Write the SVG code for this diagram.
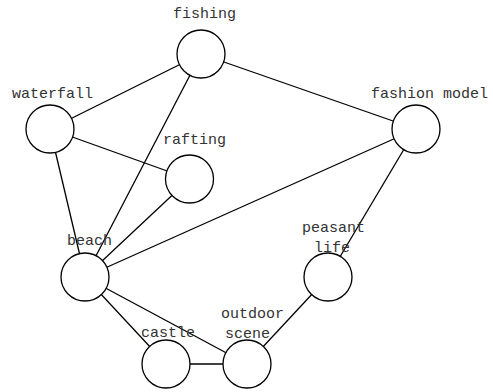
<svg xmlns="http://www.w3.org/2000/svg" width="493" height="392" viewBox="0 0 493 392">
<style>
.e{stroke:#000;stroke-width:1.3;fill:none}
.n circle{fill:#fff;stroke:#000;stroke-width:1.3}
.n text{font-family:"Liberation Mono","DejaVu Sans Mono",monospace;font-size:15px;fill:#333}
</style>
<rect width="493" height="392" fill="#fff"/>
<g id="connectors">
<line class="e" x1="201" y1="54" x2="50" y2="129"/>
<line class="e" x1="201" y1="54" x2="416" y2="129"/>
<line class="e" x1="201" y1="54" x2="85" y2="277"/>
<line class="e" x1="50" y1="129" x2="189.5" y2="179"/>
<line class="e" x1="50" y1="129" x2="85" y2="277"/>
<line class="e" x1="189.5" y1="179" x2="85" y2="277"/>
<line class="e" x1="416" y1="129" x2="85" y2="277"/>
<line class="e" x1="416" y1="129" x2="328" y2="277"/>
<line class="e" x1="85" y1="277" x2="166" y2="364"/>
<line class="e" x1="85" y1="277" x2="247" y2="364"/>
<line class="e" x1="166" y1="364" x2="247" y2="364"/>
<line class="e" x1="247" y1="364" x2="328" y2="277"/>
</g>
<g id="fishing" class="n"><circle cx="201" cy="54" r="24"/><text x="173" y="18">fishing</text></g>
<g id="waterfall" class="n"><circle cx="50" cy="129" r="24"/><text x="12" y="98">waterfall</text></g>
<g id="rafting" class="n"><circle cx="189.5" cy="179" r="24"/><text x="163" y="144">rafting</text></g>
<g id="fashion_model" class="n"><circle cx="416" cy="129" r="24"/><text x="371" y="98">fashion model</text></g>
<g id="beach" class="n"><circle cx="85" cy="277" r="24"/><text x="67" y="245">beach</text></g>
<g id="peasant_life" class="n"><circle cx="328" cy="277" r="24"/><text x="302" y="232">peasant</text><text x="314" y="252">life</text></g>
<g id="castle" class="n"><circle cx="166" cy="364" r="24"/><text x="141" y="337">castle</text></g>
<g id="outdoor_scene" class="n"><circle cx="247" cy="364" r="24"/><text x="221" y="318">outdoor</text><text x="225" y="338">scene</text></g>
</svg>
